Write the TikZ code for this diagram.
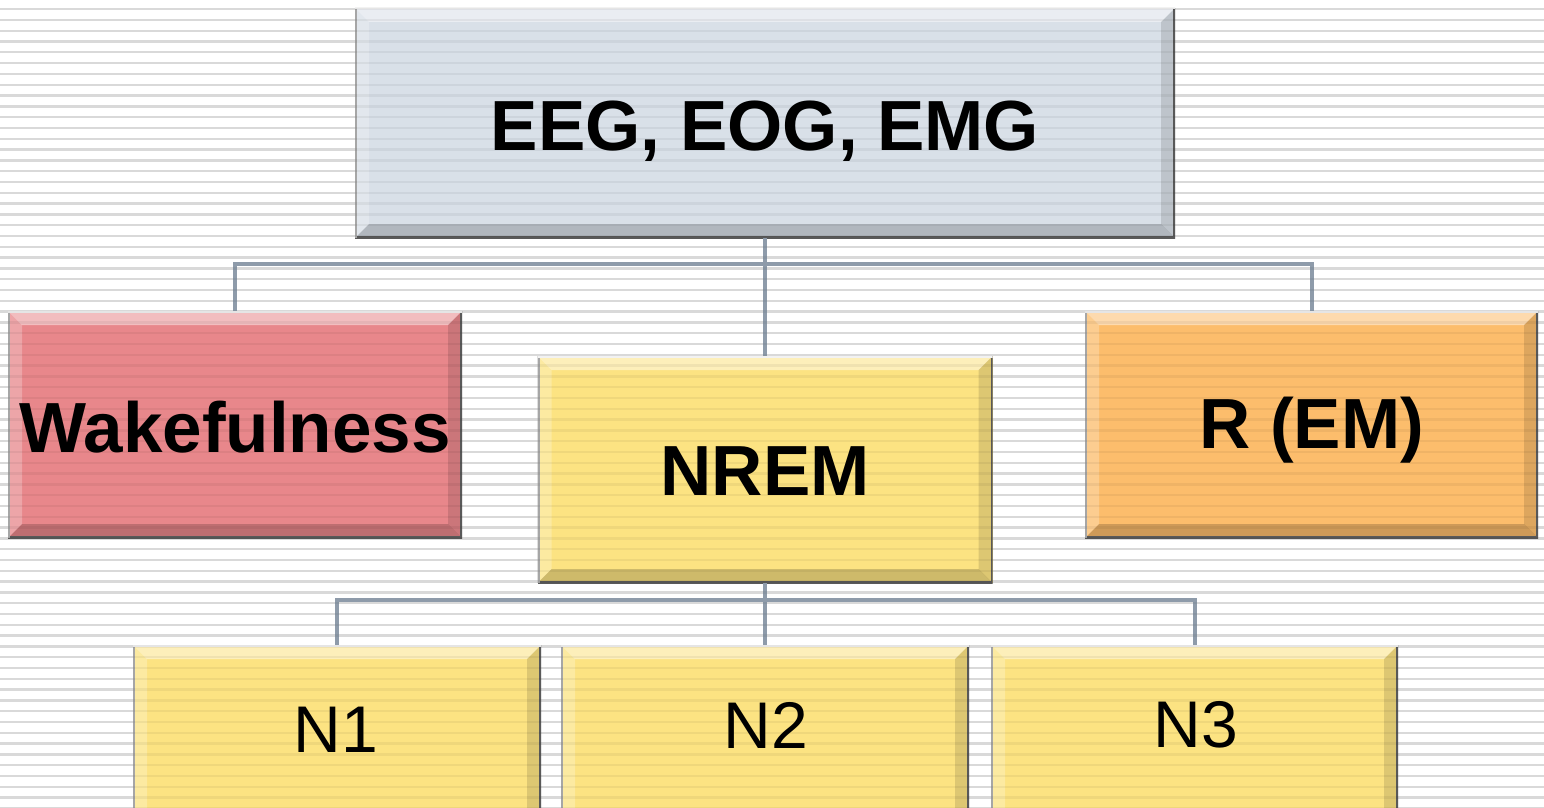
\documentclass[tikz,border=0pt]{standalone}
\usepackage{fontspec}
\setmainfont{Liberation Sans}
\begin{document}
\begin{tikzpicture}[x=1pt,y=-1pt,
  bev/.style={fill=#1, inner sep=0pt, draw=none,
    path picture={
      \fill[white,opacity=0.45] (path picture bounding box.north west) -- (path picture bounding box.north east) -- ([yshift=-14pt,xshift=-14pt]path picture bounding box.north east) -- ([yshift=-14pt,xshift=14pt]path picture bounding box.north west) -- cycle;
      \fill[white,opacity=0.25] (path picture bounding box.north west) -- ([yshift=-14pt,xshift=14pt]path picture bounding box.north west) -- ([xshift=14pt,yshift=14pt]path picture bounding box.south west) -- (path picture bounding box.south west) -- cycle;
      \fill[black,opacity=0.12] (path picture bounding box.north east) -- ([yshift=-14pt,xshift=-14pt]path picture bounding box.north east) -- ([xshift=-14pt,yshift=14pt]path picture bounding box.south east) -- (path picture bounding box.south east) -- cycle;
      \fill[black,opacity=0.18] (path picture bounding box.south west) -- ([xshift=14pt,yshift=14pt]path picture bounding box.south west) -- ([xshift=-14pt,yshift=14pt]path picture bounding box.south east) -- (path picture bounding box.south east) -- cycle;
      \draw[black!65,line width=4pt] (path picture bounding box.north east) -- (path picture bounding box.south east) -- (path picture bounding box.south west);
      \draw[gray!70,line width=4pt] (path picture bounding box.south west) -- (path picture bounding box.north west);
      \draw[white!90!gray,line width=3pt] (path picture bounding box.north west) -- (path picture bounding box.north east);
    }},
  bigtxt/.style={font=\bfseries\fontsize{71}{80}\selectfont},
  smalltxt/.style={font=\fontsize{66}{76}\selectfont},
  conn/.style={draw=connc, line width=4pt}
]
\definecolor{topc}{HTML}{D9E0E8}
\definecolor{wakec}{HTML}{E8878B}
\definecolor{yelc}{HTML}{FCE382}
\definecolor{orc}{HTML}{FCBD6C}
\definecolor{connc}{HTML}{8E9BAA}
\useasboundingbox (0,0) rectangle (1544,808);
\clip (0,0) rectangle (1544,808);
\fill[white] (0,0) rectangle (1544,808);
% background stripes
\foreach \i in {0,...,75}
  \fill[black!10] (0,{8+\i*10.8}) rectangle (1544,{10.3+\i*10.8});
\coordinate (b1) at (765,264);
\coordinate (b2) at (765,600);
% boxes
\node[bev=topc, minimum width=820pt, minimum height=230pt] (top) at (765,123) {};
\node[bev=wakec, minimum width=454pt, minimum height=227pt] (wake) at (235,424.5) {};
\node[bev=yelc, minimum width=455pt, minimum height=227pt] (nrem) at (765,469.5) {};
\node[bev=orc, minimum width=453pt, minimum height=227pt] (rem) at (1311.5,424.5) {};
\node[bev=yelc, minimum width=408pt, minimum height=200pt] (n1) at (337,745) {};
\node[bev=yelc, minimum width=408pt, minimum height=200pt] (n2) at (765,745) {};
\node[bev=yelc, minimum width=407pt, minimum height=200pt] (n3) at (1194.5,745) {};
% connectors
\draw[conn] (top.south) -- (b1);
\draw[conn] (wake.north) |- (b1) -| (rem.north);
\draw[conn] (b1) -- (nrem.north);
\draw[conn] (nrem.south) -- (b2);
\draw[conn] (n1.north) |- (b2) -| (n3.north);
\draw[conn] (b2) -- (n2.north);
% stripes over boxes
\foreach \i in {0,...,75}
  \fill[black,opacity=0.05] (0,{8+\i*10.8}) rectangle (1544,{10.3+\i*10.8});
% labels
\node[bigtxt] (toptxt) at ([yshift=-8pt]top.center) {EEG, EOG, EMG};
\node[bigtxt] (waketxt) at ([yshift=-3pt]wake.center) {Wakefulness};
\node[bigtxt] (nremtxt) at ([yshift=-2pt]nrem.center) {NREM};
\node[bigtxt] (remtxt) at ([yshift=-6pt]rem.center) {R (EM)};
\node[smalltxt] (n1txt) at (336,730) {N1};
\node[smalltxt] (n2txt) at (766,725) {N2};
\node[smalltxt] (n3txt) at (1196,725) {N3};
\end{tikzpicture}
\end{document}
